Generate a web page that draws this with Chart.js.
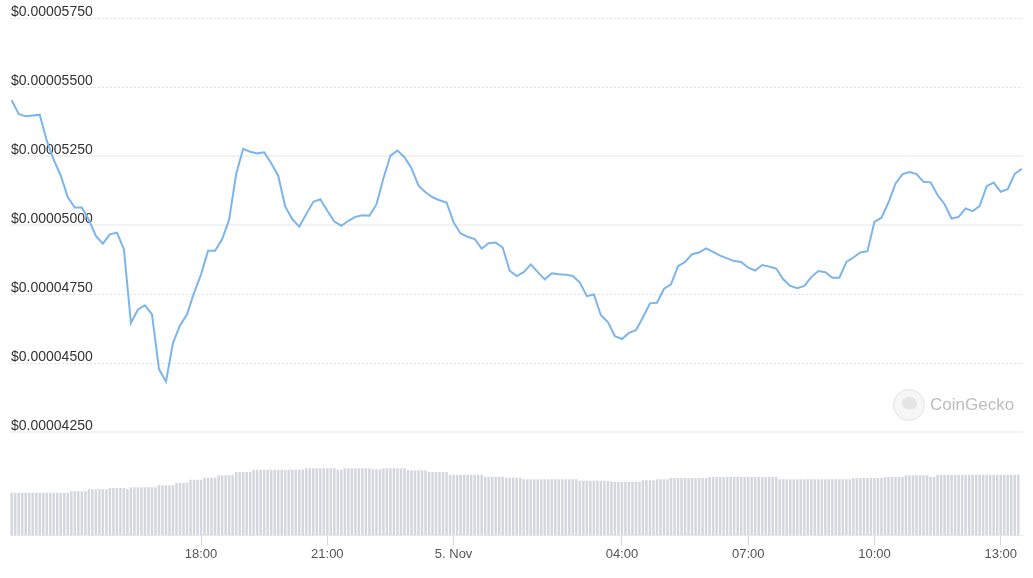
<!doctype html>
<html>

<head>
  <meta charset="utf-8">
  <title>Price and Volume</title>
  <script src="https://cdn.jsdelivr.net/npm/chart.js@4.4.1/dist/chart.umd.min.js"></script>
</head>
<style>
  body {
    margin: 0;
    background: #fff;
    font-family: "Liberation Sans", Arial, sans-serif;
  }

  .chartContainer {
    position: relative;
    width: 1033px;
    height: 578px;
  }

  .geckoLogo {
    position: absolute;
    left: 893px;
    top: 389px;
    width: 30px;
    height: 30px;
    border-radius: 50%;
    border: 1px solid #e2e2e2;
    background: #f6f6f6;
  }

  .geckoLogo div {
    position: absolute;
    left: 8px;
    top: 7px;
    width: 15px;
    height: 12px;
    border-radius: 50% 60% 40% 50%;
    background: #e4e4e4;
  }

  .geckoText {
    position: absolute;
    left: 930px;
    top: 395px;
    font-size: 17px;
    line-height: 20px;
    color: #bdbdbd;
  }
</style>

<body>
  <div class="chartContainer">
    <canvas id="priceChartId"></canvas>
    <div class="geckoLogo"><div></div></div>
    <div class="geckoText">CoinGecko</div>
  </div>
  <script>
    // hours relative to 5. Nov 00:00, first sample at 13:30
    var startHour = -10.5;
    var priceStepMin = 10;
    var volumeStepMin = 5;

    // price in units of 1e-8 USD
    var priceValues = [
      5452, 5403, 5394, 5397, 5400, 5306, 5236, 5179, 5101, 5064, 5064, 5020,
      4961, 4933, 4967, 4973, 4913, 4646, 4695, 4710, 4677, 4479, 4434, 4574,
      4637, 4677, 4755, 4822, 4907, 4907, 4949, 5020, 5185, 5276, 5266, 5260,
      5264, 5224, 5179, 5067, 5022, 4995, 5040, 5085, 5094, 5052, 5013, 4998,
      5016, 5030, 5036, 5034, 5075, 5170, 5252, 5270, 5246, 5206, 5143, 5119,
      5101, 5090, 5082, 5010, 4970, 4958, 4950, 4915, 4935, 4937, 4919, 4835,
      4816, 4830, 4858, 4830, 4804, 4826, 4822, 4821, 4816, 4792, 4743, 4749,
      4674, 4649, 4598, 4588, 4610, 4620, 4667, 4717, 4719, 4770, 4786, 4852,
      4867, 4895, 4901, 4916, 4903, 4890, 4880, 4870, 4867, 4846, 4836, 4856,
      4850, 4843, 4804, 4780, 4772, 4780, 4812, 4834, 4830, 4810, 4810, 4867,
      4883, 4901, 4906, 5012, 5027, 5082, 5150, 5185, 5192, 5185, 5157, 5155,
      5109, 5076, 5024, 5030, 5061, 5051, 5069, 5141, 5154, 5121, 5130, 5186,
      5204
    ];

    // volume in millions USD, one bar per 5 minutes
    var volumeValues = [
      4.27, 4.27, 4.27, 4.27, 4.27, 4.27, 4.27, 4.27, 4.27, 4.27, 4.27, 4.27,
      4.27, 4.27, 4.27, 4.27, 4.27, 4.40, 4.40, 4.40, 4.40, 4.40, 4.60, 4.60,
      4.60, 4.60, 4.60, 4.60, 4.73, 4.73, 4.73, 4.73, 4.73, 4.63, 4.80, 4.80,
      4.80, 4.80, 4.80, 4.80, 4.80, 4.80, 5.00, 5.00, 5.00, 5.00, 5.00, 5.27,
      5.27, 5.27, 5.27, 5.57, 5.57, 5.57, 5.57, 5.77, 5.77, 5.77, 5.77, 6.00,
      6.00, 6.00, 6.00, 6.00, 6.33, 6.33, 6.33, 6.33, 6.33, 6.57, 6.57, 6.57,
      6.57, 6.57, 6.57, 6.57, 6.57, 6.57, 6.57, 6.57, 6.57, 6.57, 6.57, 6.57,
      6.70, 6.70, 6.70, 6.70, 6.70, 6.70, 6.70, 6.70, 6.70, 6.57, 6.57, 6.70,
      6.70, 6.70, 6.70, 6.70, 6.70, 6.70, 6.70, 6.60, 6.60, 6.60, 6.70, 6.70,
      6.70, 6.70, 6.70, 6.70, 6.70, 6.50, 6.50, 6.50, 6.50, 6.50, 6.50, 6.33,
      6.33, 6.33, 6.33, 6.33, 6.33, 6.07, 6.07, 6.07, 6.07, 6.07, 6.07, 6.07,
      6.07, 6.07, 6.07, 5.87, 5.87, 5.87, 5.87, 5.87, 5.87, 5.75, 5.75, 5.75,
      5.75, 5.75, 5.60, 5.60, 5.60, 5.60, 5.60, 5.60, 5.60, 5.60, 5.60, 5.60,
      5.60, 5.60, 5.60, 5.60, 5.60, 5.60, 5.47, 5.47, 5.47, 5.47, 5.47, 5.47,
      5.47, 5.47, 5.47, 5.37, 5.37, 5.37, 5.37, 5.37, 5.37, 5.37, 5.37, 5.37,
      5.50, 5.50, 5.50, 5.50, 5.60, 5.60, 5.60, 5.60, 5.73, 5.73, 5.73, 5.73,
      5.73, 5.73, 5.73, 5.73, 5.73, 5.73, 5.73, 5.83, 5.83, 5.83, 5.83, 5.83,
      5.83, 5.83, 5.83, 5.83, 5.83, 5.83, 5.83, 5.83, 5.83, 5.83, 5.83, 5.83,
      5.83, 5.83, 5.83, 5.60, 5.60, 5.60, 5.60, 5.60, 5.60, 5.60, 5.60, 5.60,
      5.60, 5.60, 5.60, 5.60, 5.60, 5.60, 5.60, 5.60, 5.60, 5.60, 5.60, 5.60,
      5.73, 5.73, 5.73, 5.73, 5.73, 5.73, 5.73, 5.73, 5.73, 5.83, 5.83, 5.83,
      5.83, 5.83, 5.83, 6.00, 6.00, 6.00, 6.00, 6.00, 6.00, 6.00, 5.83, 5.83,
      6.07, 6.07, 6.07, 6.07, 6.07, 6.07, 6.07, 6.07, 6.07, 6.07, 6.07, 6.07,
      6.07, 6.07, 6.07, 6.07, 6.07, 6.07, 6.07, 6.07, 6.07, 6.07, 6.07, 6.07
    ];

    var yTickValues = [4250, 4500, 4750, 5000, 5250, 5500, 5750];
    var xTickHours = [-6, -3, 0, 4, 7, 10, 13];
    var xTickLabels = ["18:00", "21:00", "5. Nov", "04:00", "07:00", "10:00", "13:00"];

    function toPoints(values, stepMin) {
      var points = [];
      for (var index = 0; index < values.length; index++) {
        points.push({ x: startHour + index * stepMin / 60, y: values[index] });
      }
      return points;
    }

    function isSolidLine(value) {
      return value === 5000 || value === 5250 || value === 4250;
    }

    var ctx = document.getElementById("priceChartId").getContext("2d");
    var myChart = new Chart(ctx, {
      data: {
        datasets: [{
          type: "line",
          label: "Price",
          data: toPoints(priceValues, priceStepMin),
          yAxisID: "y",
          borderColor: "#7cb5ec",
          borderWidth: 2,
          pointRadius: 0,
          tension: 0,
          order: 0
        }, {
          type: "bar",
          label: "Volume",
          data: toPoints(volumeValues, volumeStepMin),
          yAxisID: "yv",
          backgroundColor: "#d4d7dd",
          barPercentage: 1,
          categoryPercentage: 0.72,
          order: 1
        }]
      },
      options: {
        responsive: true,
        maintainAspectRatio: false,
        animation: false,
        layout: { padding: { top: 18, left: 8, right: 10, bottom: 15 } },
        plugins: { legend: { display: false }, tooltip: { enabled: false } },
        scales: {
          x: {
            type: "linear",
            offset: false,
            min: -10.54,
            max: 13.53,
            afterBuildTicks: function (scale) {
              scale.ticks = xTickHours.map(function (v) { return { value: v }; });
            },
            ticks: {
              autoSkip: false,
              maxRotation: 0,
              padding: 1,
              color: "#555",
              font: { family: "Liberation Sans", size: 13 },
              callback: function (value, index) { return xTickLabels[index]; }
            },
            grid: {
              offset: false,
              drawOnChartArea: false,
              drawTicks: true,
              tickLength: 10,
              tickColor: "#ccd6eb"
            },
            border: { display: true, color: "#e8eaee" }
          },
          y: {
            position: "left",
            min: 3877,
            max: 5750,
            afterBuildTicks: function (scale) {
              scale.ticks = yTickValues.map(function (v) { return { value: v }; });
            },
            ticks: {
              mirror: true,
              padding: 1,
              labelOffset: -6,
              color: "#333",
              font: { family: "Liberation Sans", size: 14 },
              callback: function (value) { return "$" + (value / 1e8).toFixed(8); }
            },
            grid: {
              drawTicks: false,
              color: function (c) { return isSolidLine(c.tick.value) ? "#f2f2f2" : "#e3e3e3"; },
              lineWidth: function (c) { return isSolidLine(c.tick.value) ? 2 : 1; }
            },
            border: {
              display: false,
              dash: function (c) { return isSolidLine(c.tick.value) ? [] : [2, 2]; }
            }
          },
          yv: {
            display: false,
            min: 0,
            max: 51.7
          }
        }
      }
    });
  </script>
</body>

</html>
